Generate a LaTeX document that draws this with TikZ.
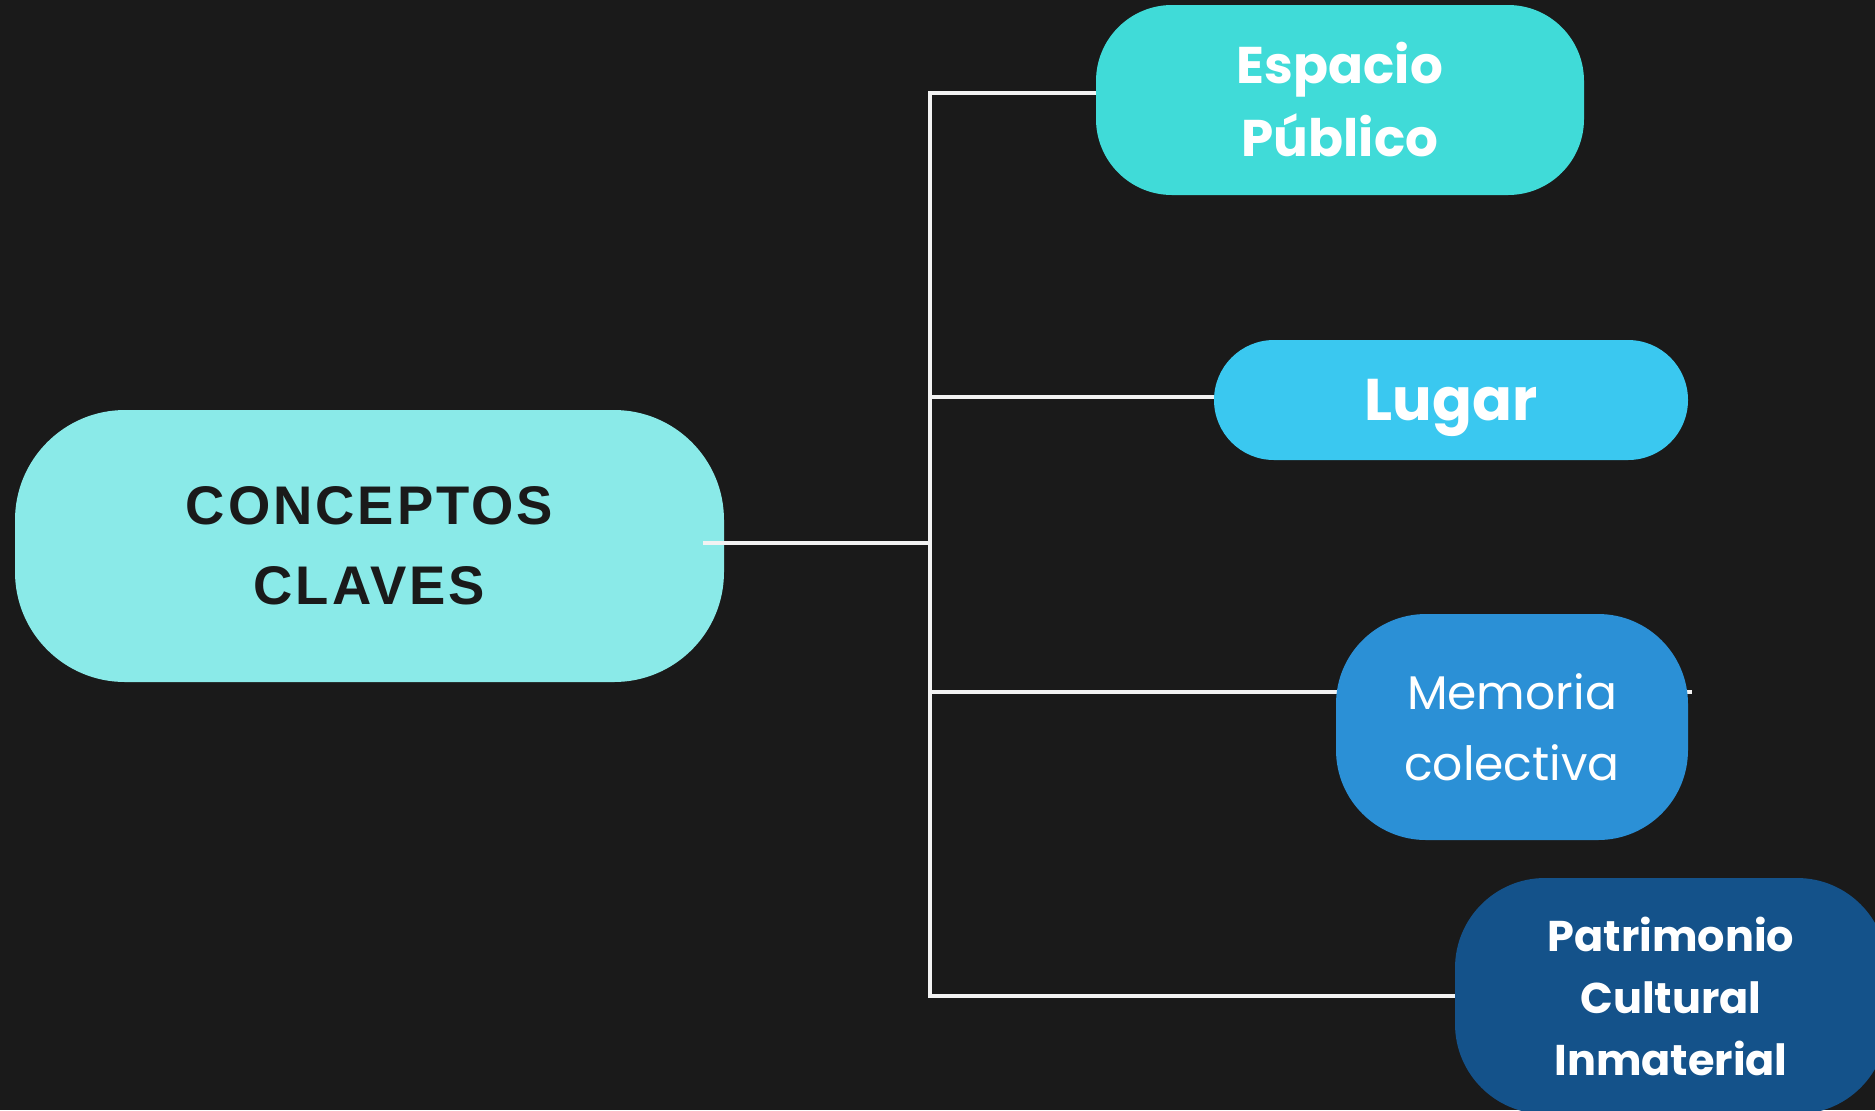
\documentclass[tikz,border=0pt]{standalone}
\usepackage{fontspec}
\setmainfont{Poppins}
\newfontfamily\clavefont[LetterSpace=5.5]{Liberation Sans}
\colorlet{background}{white}
\definecolor{bgDark}{HTML}{1A1A1A}
\definecolor{lineCol}{HTML}{F2F2F2}
\definecolor{fillMain}{HTML}{8AEAE8}
\definecolor{fillEsp}{HTML}{40DBD8}
\definecolor{fillLug}{HTML}{3AC8F0}
\definecolor{fillMem}{HTML}{2B90D6}
\definecolor{fillPat}{HTML}{14528A}
\pgfdeclarelayer{bottom}
\pgfdeclarelayer{background}
\pgfsetlayers{bottom,background,main}
\tikzset{
  concept/.style={rectangle,inner sep=0pt,align=center,text=white},
  conn/.style={draw=lineCol,line width=2pt},
}

\begin{document}
\begin{tikzpicture}[x=0.5pt,y=-0.5pt]
      \useasboundingbox (0,0) rectangle (1875,1110);
      \clip (0,0) rectangle (1875,1110);
      \begin{pgfonlayer}{bottom}
        \fill[bgDark] (0,0) rectangle (1875,1110);
      \end{pgfonlayer}
      % central node
      \node[concept,fill=fillMain,text=bgDark,minimum width=354.5pt,minimum height=136pt,rounded corners=55pt,
            font=\clavefont\bfseries\fontsize{27.2}{40}\selectfont] (main) at (369.5,546) {CONCEPTOS\\CLAVES};
      % branches
      \node[concept,fill=fillEsp,minimum width=244pt,minimum height=95pt,rounded corners=38pt,
            font=\bfseries\fontsize{25.8}{36.5}\selectfont] (esp) at (1340,100) {Espacio\\Público};
      \node[concept,fill=fillLug,minimum width=237pt,minimum height=60pt,rounded corners=30pt,text depth=0pt,
            font=\bfseries\fontsize{29.4}{36}\selectfont] (lug) at (1451,400) {Lugar};
      \node[concept,fill=fillMem,minimum width=176pt,minimum height=113pt,rounded corners=45pt,
            font=\fontsize{23.6}{35.5}\selectfont] (mem) at (1512,727) {Memoria\\colectiva};
      \node[concept,fill=fillPat,minimum width=216pt,minimum height=118pt,rounded corners=45pt,
            font=\bfseries\fontsize{21.5}{31}\selectfont] (pat) at (1671,996) {Patrimonio\\Cultural\\Inmaterial};
      % connectors
      \coordinate (jn) at (930,543);
      \draw[conn] ([xshift=-10.5pt]jn -| main.east) -- (jn);
      \begin{pgfonlayer}{background}
        \draw[conn] (jn) |- ([yshift=3.5pt]esp.west);
        \draw[conn] (jn) |- ([yshift=1.5pt]lug.west);
        \draw[conn] (jn) |- ([xshift=2pt,yshift=17.5pt]mem.east);
        \draw[conn] (jn) |- (pat.west);
      \end{pgfonlayer}
    \end{tikzpicture}
\end{document}
